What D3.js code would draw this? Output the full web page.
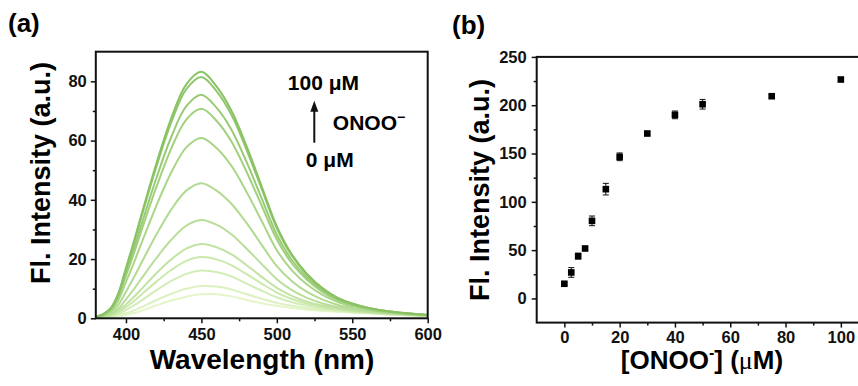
<!DOCTYPE html>
<html>
<head>
<meta charset="utf-8">
<script src="https://cdn.jsdelivr.net/npm/d3@7"></script>
<style>
  body { margin: 0; background: #fff; }
  svg { display: block; font-family: "Liberation Sans", Arial, sans-serif; }
  .tick text { font-size: 16.5px; font-weight: bold; fill: #111; }
</style>
</head>
<body>
<svg id="chart" width="858" height="386"></svg>
<script>
// (a) emission spectra, 0 -> 100 uM ONOO-
const wavelengths = [380, 385, 390, 395, 400, 405, 410, 420, 430, 440, 450, 460, 470, 480, 490, 500, 510, 520, 530, 540, 550, 560, 575, 600];
const spectra = [
  [0.1, 0.2, 0.4, 0.7, 1.1, 1.7, 2.5, 4.3, 6.0, 7.3, 8.1, 8.1, 7.4, 6.2, 5.1, 4.2, 3.5, 2.9, 2.5, 2.2, 1.9, 1.7, 1.3, 0.8],
  [0.1, 0.2, 0.5, 1.0, 1.7, 2.6, 3.7, 6.1, 8.3, 10.0, 10.9, 10.7, 9.7, 8.1, 6.6, 5.2, 4.2, 3.4, 2.8, 2.4, 2.0, 1.8, 1.3, 0.8],
  [0.1, 0.3, 0.7, 1.5, 2.8, 4.3, 5.9, 9.4, 12.6, 15.0, 16.1, 15.6, 14.1, 11.7, 9.3, 7.1, 5.4, 4.2, 3.3, 2.7, 2.2, 1.9, 1.4, 0.8],
  [0.2, 0.4, 0.9, 2.0, 3.8, 5.7, 7.9, 12.3, 16.3, 19.4, 20.7, 19.9, 17.9, 14.9, 11.7, 8.7, 6.5, 4.9, 3.8, 3.0, 2.4, 2.0, 1.5, 0.9],
  [0.2, 0.5, 1.1, 2.5, 4.7, 7.1, 9.7, 15.1, 19.9, 23.5, 25.1, 24.0, 21.6, 17.9, 14.0, 10.3, 7.6, 5.6, 4.3, 3.3, 2.6, 2.1, 1.5, 0.9],
  [0.2, 0.6, 1.4, 3.3, 6.4, 9.7, 13.2, 20.2, 26.5, 31.3, 33.2, 31.6, 28.3, 23.5, 18.3, 13.2, 9.5, 6.9, 5.1, 3.8, 2.9, 2.3, 1.6, 0.9],
  [0.3, 0.8, 2.0, 4.6, 9.0, 13.6, 18.5, 28.1, 36.7, 43.1, 45.6, 43.1, 38.6, 32.1, 24.8, 17.6, 12.5, 8.9, 6.4, 4.6, 3.5, 2.7, 1.8, 1.0],
  [0.4, 1.0, 2.6, 6.2, 12.3, 18.4, 25.0, 37.8, 49.2, 57.7, 60.9, 57.5, 51.4, 42.6, 32.8, 23.0, 16.2, 11.4, 8.0, 5.6, 4.1, 3.0, 2.0, 1.0],
  [0.4, 1.2, 3.0, 7.2, 14.4, 21.6, 29.2, 44.1, 57.3, 67.1, 70.7, 66.7, 59.6, 49.4, 38.0, 26.6, 18.5, 13.0, 9.0, 6.2, 4.5, 3.3, 2.1, 1.1],
  [0.5, 1.3, 3.2, 7.7, 15.4, 23.1, 31.2, 47.1, 61.2, 71.6, 75.5, 71.1, 63.6, 52.7, 40.4, 28.2, 19.6, 13.8, 9.5, 6.5, 4.7, 3.4, 2.2, 1.1],
  [0.5, 1.4, 3.4, 8.3, 16.6, 25.0, 33.8, 50.9, 66.1, 77.4, 81.5, 76.7, 68.6, 56.8, 43.6, 30.4, 21.1, 14.7, 10.1, 6.9, 4.9, 3.6, 2.3, 1.1],
  [0.5, 1.4, 3.5, 8.5, 17.0, 25.5, 34.5, 52.0, 67.5, 79.0, 83.2, 78.3, 70.0, 58.0, 44.5, 31.0, 21.5, 15.0, 10.3, 7.0, 5.0, 3.6, 2.3, 1.1]
];
const xTicksA = [400, 450, 500, 550, 600];
const xMinorA = [425, 475, 525, 575];
const yTicksA = [0, 20, 40, 60, 80];
const yMinorA = [10, 30, 50, 70];

// (b) titration
const conc = [0, 2.5, 5, 7.5, 10, 15, 20, 30, 40, 50, 75, 100];
const intensity = [15.2, 26.9, 43.8, 51.7, 80.3, 113.1, 146.6, 170.7, 190.0, 201.0, 209.3, 226.6];
const errs = [1.5, 5, 3, 1.5, 5, 6, 4, 2, 4, 5, 1.5, 2];
const xTicksB = [0, 20, 40, 60, 80, 100];
const xMinorB = [10, 30, 50, 70, 90];
const yTicksB = [0, 50, 100, 150, 200, 250];
const yMinorB = [25, 75, 125, 175, 225];

const svg = d3.select("#chart");

function frame(g, x, y, w, h, xt, xm, yt, ym, padX, padY) {
  g.append("g").attr("transform", `translate(0,${h})`)
    .call(d3.axisBottom(x).tickValues(xt).tickSize(5).tickSizeOuter(0).tickPadding(padX));
  g.append("g").attr("transform", `translate(0,${h})`)
    .call(d3.axisBottom(x).tickValues(xm).tickSize(3).tickSizeOuter(0).tickFormat(""));
  g.append("g")
    .call(d3.axisLeft(y).tickValues(yt).tickSize(5).tickSizeOuter(0).tickPadding(padY));
  g.append("g")
    .call(d3.axisLeft(y).tickValues(ym).tickSize(3).tickSizeOuter(0).tickFormat(""));
  g.selectAll(".domain").remove();
  g.selectAll(".tick line").attr("stroke", "#111").attr("stroke-width", 1.5);
  g.append("rect")
    .attr("width", w).attr("height", h)
    .attr("fill", "none").attr("stroke", "#111").attr("stroke-width", 2);
}

// ---------- panel (a) ----------
const a = { left: 95.8, top: 51.7, w: 331.9, h: 266.6 };
const gA = svg.append("g").attr("transform", `translate(${a.left},${a.top})`);
const xA = d3.scaleLinear().domain([380, 600]).range([0, a.w]);
const yA = d3.scaleLinear().domain([0, 90]).range([a.h, 0]);
const color = d3.scaleLinear().domain([0, spectra.length - 1])
  .range(["#e4f6c9", "#88c262"]).interpolate(d3.interpolateRgb);

const line = d3.line()
  .x((d, i) => xA(wavelengths[i]))
  .y(d => yA(d))
  .curve(d3.curveCatmullRom.alpha(0.5));

gA.append("g").selectAll("path")
  .data(spectra)
  .join("path")
  .attr("d", line)
  .attr("fill", "none")
  .attr("stroke", (d, i) => color(i))
  .attr("stroke-width", 2);

frame(gA, xA, yA, a.w, a.h, xTicksA, xMinorA, yTicksA, yMinorA, 5, 4);

// annotation
gA.append("text").attr("x", 192).attr("y", 38.5)
  .attr("font-size", 21).attr("font-weight", "bold").text("100 μM");
gA.append("text").attr("x", 210).attr("y", 115)
  .attr("font-size", 21).attr("font-weight", "bold").text("0 μM");
const onoo = gA.append("text").attr("x", 237).attr("y", 78.5)
  .attr("font-size", 21).attr("font-weight", "bold").text("ONOO");
onoo.append("tspan").attr("dy", -8).attr("font-size", 14).text("−");
gA.append("line").attr("x1", 218.5).attr("x2", 218.5).attr("y1", 91).attr("y2", 58)
  .attr("stroke", "#111").attr("stroke-width", 2);
gA.append("path").attr("d", "M218.5,49 L214.5,60 L222.5,60 Z").attr("fill", "#111");

// axis titles (a)
svg.append("text").attr("x", 262).attr("y", 369)
  .attr("text-anchor", "middle").attr("font-size", 28).attr("font-weight", "bold")
  .text("Wavelength (nm)");
svg.append("text").attr("transform", "translate(50,173) rotate(-90)")
  .attr("text-anchor", "middle").attr("font-size", 27).attr("font-weight", "bold")
  .text("Fl. Intensity (a.u.)");
svg.append("text").attr("x", 8).attr("y", 32)
  .attr("font-size", 26).attr("font-weight", "bold").text("(a)");

// ---------- panel (b) ----------
const b = { left: 536.7, top: 56.9, right: 868.5, bottom: 322.6 };
const gB = svg.append("g").attr("transform", `translate(${b.left},${b.top})`);
const xB = d3.scaleLinear().domain([-10, 110]).range([0, b.right - b.left]);
const yB = d3.scaleLinear().domain([-25, 250]).range([b.bottom - b.top, 0]);

frame(gB, xB, yB, b.right - b.left, b.bottom - b.top, xTicksB, xMinorB, yTicksB, yMinorB, 4, 5);

const pts = conc.map((c, i) => ({ c, v: intensity[i], e: errs[i] }));
const eb = gB.append("g").attr("stroke", "#111").attr("stroke-width", 1);
eb.selectAll("line.v").data(pts).join("line").attr("class", "v")
  .attr("x1", d => xB(d.c)).attr("x2", d => xB(d.c))
  .attr("y1", d => yB(d.v - d.e)).attr("y2", d => yB(d.v + d.e));
eb.selectAll("line.t").data(pts).join("line").attr("class", "t")
  .attr("x1", d => xB(d.c) - 3).attr("x2", d => xB(d.c) + 3)
  .attr("y1", d => yB(d.v + d.e)).attr("y2", d => yB(d.v + d.e));
eb.selectAll("line.b").data(pts).join("line").attr("class", "b")
  .attr("x1", d => xB(d.c) - 3).attr("x2", d => xB(d.c) + 3)
  .attr("y1", d => yB(d.v - d.e)).attr("y2", d => yB(d.v - d.e));
gB.append("g").selectAll("rect").data(pts).join("rect")
  .attr("x", d => xB(d.c) - 3.3).attr("y", d => yB(d.v) - 3.3)
  .attr("width", 6.6).attr("height", 6.6).attr("fill", "#000");

// axis titles (b)
const xt = svg.append("text").attr("x", 702).attr("y", 369)
  .attr("text-anchor", "middle").attr("font-size", 26).attr("font-weight", "bold");
xt.append("tspan").text("[ONOO");
xt.append("tspan").attr("dy", -11).attr("font-size", 16).text("-");
xt.append("tspan").attr("dy", 11).text("] (");
xt.append("tspan").attr("font-family", "'Liberation Serif', serif").attr("font-weight", "normal").text("μ");
xt.append("tspan").text("M)");
svg.append("text").attr("transform", "translate(489,190) rotate(-90)")
  .attr("text-anchor", "middle").attr("font-size", 27).attr("font-weight", "bold")
  .text("Fl. Intensity (a.u.)");
svg.append("text").attr("x", 452).attr("y", 34)
  .attr("font-size", 26).attr("font-weight", "bold").text("(b)");
</script>
</body>
</html>
